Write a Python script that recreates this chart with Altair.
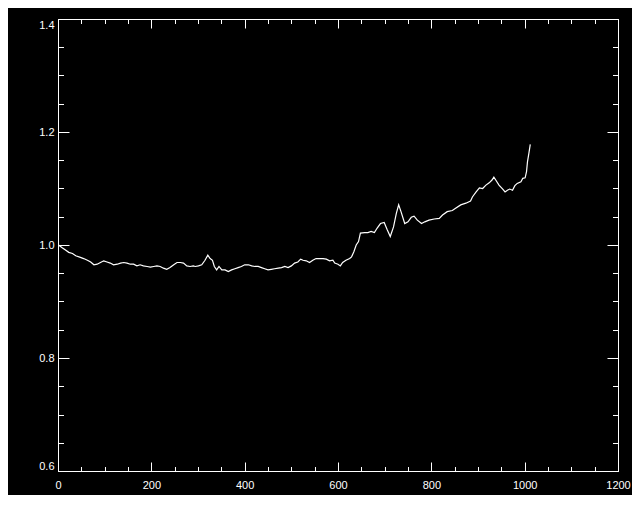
import altair as alt
import pandas as pd

# traced series (x index, normalized value)
xs = [1, 9, 16, 23, 31, 38, 48, 55, 63, 70, 77, 84, 91, 98, 105, 112, 119, 127, 134, 141,
      148, 155, 162, 169, 176, 183, 191, 198, 205, 212, 219, 226, 233, 240, 248, 255, 262,
      269, 276, 283, 290, 294, 301, 308, 315, 321, 326, 331, 335, 340, 345, 351, 358, 365,
      372, 379, 386, 393, 400, 408, 415, 422, 429, 436, 443, 450, 457, 464, 472, 479, 486,
      493, 500, 507, 514, 520, 525, 532, 539, 546, 553, 561, 568, 575, 582, 589, 593, 600,
      605, 610, 617, 625, 629, 634, 639, 644, 648, 657, 664, 671, 678, 684, 691, 699, 705,
      712, 719, 725, 730, 735, 743, 750, 757, 763, 770, 779, 786, 795, 806, 817, 824, 834,
      845, 852, 863, 874, 884, 888, 896, 903, 910, 917, 924, 930, 934, 938, 945, 953, 958,
      963, 968, 974, 979, 984, 992, 996, 1001, 1004, 1006, 1009, 1012]
ys = [1.000, 0.995, 0.991, 0.987, 0.985, 0.981, 0.978, 0.976, 0.973, 0.970, 0.965, 0.966,
      0.969, 0.972, 0.970, 0.968, 0.965, 0.966, 0.968, 0.969, 0.968, 0.966, 0.966, 0.963,
      0.965, 0.963, 0.962, 0.961, 0.962, 0.963, 0.962, 0.959, 0.957, 0.960, 0.965, 0.969,
      0.969, 0.968, 0.963, 0.962, 0.963, 0.962, 0.963, 0.965, 0.973, 0.982, 0.976, 0.973,
      0.962, 0.956, 0.962, 0.956, 0.956, 0.953, 0.956, 0.958, 0.960, 0.962, 0.965, 0.965,
      0.963, 0.962, 0.962, 0.960, 0.958, 0.956, 0.957, 0.958, 0.959, 0.960, 0.962, 0.960,
      0.963, 0.968, 0.970, 0.975, 0.973, 0.972, 0.969, 0.973, 0.976, 0.976, 0.976, 0.975,
      0.972, 0.973, 0.968, 0.966, 0.963, 0.969, 0.973, 0.976, 0.979, 0.988, 1.000, 1.006,
      1.021, 1.022, 1.022, 1.024, 1.022, 1.030, 1.038, 1.040, 1.028, 1.015, 1.032, 1.056,
      1.071, 1.059, 1.038, 1.041, 1.049, 1.051, 1.044, 1.038, 1.041, 1.044, 1.046, 1.047,
      1.053, 1.059, 1.061, 1.065, 1.071, 1.074, 1.078, 1.085, 1.094, 1.101, 1.100, 1.106,
      1.110, 1.115, 1.120, 1.115, 1.106, 1.099, 1.094, 1.097, 1.099, 1.097, 1.105, 1.109,
      1.112, 1.118, 1.119, 1.130, 1.147, 1.162, 1.178]

x_major = [0, 200, 400, 600, 800, 1000, 1200]
x_minor = list(range(0, 1201, 50))
y_major = [0.6, 0.8, 1.0, 1.2, 1.4]
y_minor = [round(0.6 + 0.05 * i, 2) for i in range(17)]

df = pd.DataFrame({"x": xs, "y": ys})

W, H = 560, 452
FONT = "Liberation Sans"
xscale = alt.Scale(domain=[0, 1200], nice=False, zero=False)
yscale = alt.Scale(domain=[0.6, 1.4], nice=False, zero=False)


def tick_axis(orient, values, size):
    return alt.Axis(orient=orient, values=values, offset=-size, tickSize=size,
                    ticks=True, tickColor="white", tickWidth=1, labels=False,
                    domain=False, grid=False, title=None)


base = alt.Chart(df)

main = base.mark_line(color="white", strokeWidth=1.2).encode(
    x=alt.X("x:Q", scale=xscale,
            axis=alt.Axis(orient="bottom", values=x_major, format="d", ticks=False,
                          tickSize=0, domain=False, grid=False, title=None,
                          labelColor="white", labelFont=FONT, labelFontSize=11,
                          labelPadding=8, labelFlush=False, labelAngle=0,
                          labelOverlap=False)),
    y=alt.Y("y:Q", scale=yscale,
            axis=alt.Axis(orient="left", values=y_major, format=".1f", ticks=False,
                          tickSize=0, domain=False, grid=False, title=None,
                          labelColor="white", labelFont=FONT, labelFontSize=11,
                          labelPadding=4, labelFlush=True, labelOverlap=False)),
)

ghost = base.mark_line(strokeOpacity=0)

t1 = ghost.encode(x=alt.X("x:Q", scale=xscale, axis=tick_axis("bottom", x_major, 9)),
                  y=alt.Y("y:Q", scale=yscale, axis=tick_axis("left", y_major, 11)))
t2 = ghost.encode(x=alt.X("x:Q", scale=xscale, axis=tick_axis("bottom", x_minor, 4.5)),
                  y=alt.Y("y:Q", scale=yscale, axis=tick_axis("left", y_minor, 5.5)))
t3 = ghost.encode(x=alt.X("x:Q", scale=xscale, axis=tick_axis("top", x_major, 9)),
                  y=alt.Y("y:Q", scale=yscale, axis=tick_axis("right", y_major, 11)))
t4 = ghost.encode(x=alt.X("x:Q", scale=xscale, axis=tick_axis("top", x_minor, 4.5)),
                  y=alt.Y("y:Q", scale=yscale, axis=tick_axis("right", y_minor, 5.5)))

chart = alt.layer(main, t1, t2, t3, t4).resolve_axis(
    x="independent", y="independent"
).properties(
    width=W, height=H,
    autosize=alt.AutoSizeParams(type="none"),
    padding={"left": 50, "top": 11, "right": 14, "bottom": 24},
    background="black",
).configure_view(stroke="white", strokeWidth=1)

chart.save("out.html", embed_options={"renderer": "svg", "actions": False})
